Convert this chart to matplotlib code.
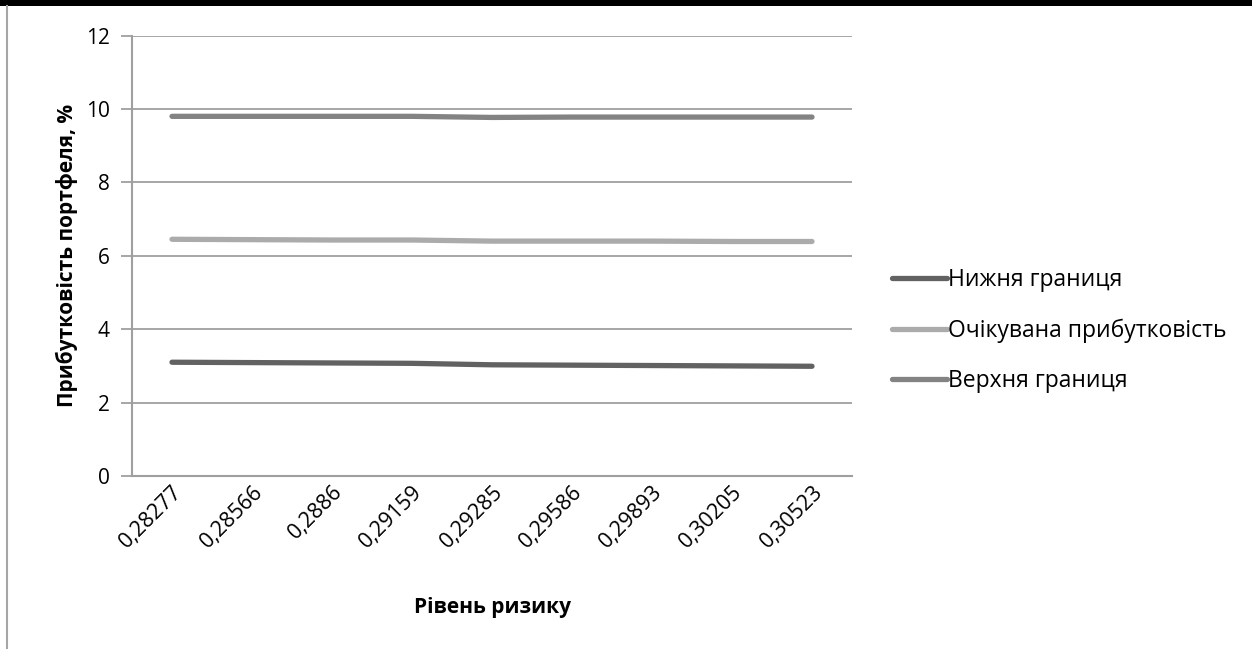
import matplotlib
matplotlib.use("Agg")
import matplotlib.pyplot as plt
from matplotlib.lines import Line2D
from matplotlib.patches import Rectangle

categories = ["0,28277", "0,28566", "0,2886", "0,29159", "0,29285",
              "0,29586", "0,29893", "0,30205", "0,30523"]
lower = [3.10, 3.09, 3.08, 3.07, 3.03, 3.02, 3.01, 3.00, 2.99]
expected = [6.45, 6.44, 6.43, 6.43, 6.40, 6.40, 6.40, 6.39, 6.39]
upper = [9.80, 9.80, 9.80, 9.80, 9.77, 9.78, 9.78, 9.78, 9.78]
series_names = ["Нижня границя", "Очікувана прибутковість", "Верхня границя"]
yticks = [0, 2, 4, 6, 8, 10, 12]

plt.rcParams['font.family'] = ['Open Sans', 'DejaVu Sans']

W, H = 1252, 649
fig = plt.figure(figsize=(W / 100, H / 100), dpi=100)

# frame decorations
fig.add_artist(Rectangle((0, 1 - 6 / H), 1, 6 / H, transform=fig.transFigure,
                         color="black", lw=0))
fig.add_artist(Line2D([7 / W, 7 / W], [0, 1 - 6 / H], transform=fig.transFigure,
                      color="#a6a6a6", lw=1.5))

left, right, top, bottom = 132, 852, 35.6, 476
ax = fig.add_axes([left / W, 1 - bottom / H, (right - left) / W, (bottom - top) / H])

x = list(range(len(categories)))
colors = ["#626262", "#ababab", "#838383"]
for vals, c, name in zip([lower, expected, upper], colors, series_names):
    ax.plot(x, vals, color=c, lw=3.8, solid_capstyle="round", label=name, zorder=3)

ax.set_xlim(-0.5, len(categories) - 0.5)
ax.set_ylim(0, 12)
ax.set_yticks(yticks)
ax.set_yticklabels([str(v) for v in yticks], fontsize=15)
ax.yaxis.grid(True, color="#9f9f9f", lw=1.3)
ax.set_axisbelow(True)
ax.set_xticks(x)
ax.set_xticklabels(categories, rotation=45, ha="right", va="top",
                   rotation_mode="anchor", fontsize=15.5)
ax.tick_params(axis="x", length=0, pad=4)
ax.tick_params(axis="y", length=8, color="#9f9f9f", width=1.3, pad=8)
for s in ["top", "right"]:
    ax.spines[s].set_visible(False)
for s in ["left", "bottom"]:
    ax.spines[s].set_color("#9f9f9f")
    ax.spines[s].set_linewidth(1.5)

ax.set_xlabel("Рівень ризику", fontsize=15, fontweight="bold", labelpad=32)
ax.set_ylabel("Прибутковість портфеля, %", fontsize=15, fontweight="bold", labelpad=6)

leg = ax.legend(loc="center left", bbox_to_anchor=((883 - left) / (right - left), 0.33),
                frameon=False, fontsize=16.5, handlelength=2.4, handletextpad=0.05,
                labelspacing=1.15, borderaxespad=0)

fig.savefig("out.png", dpi=100)
